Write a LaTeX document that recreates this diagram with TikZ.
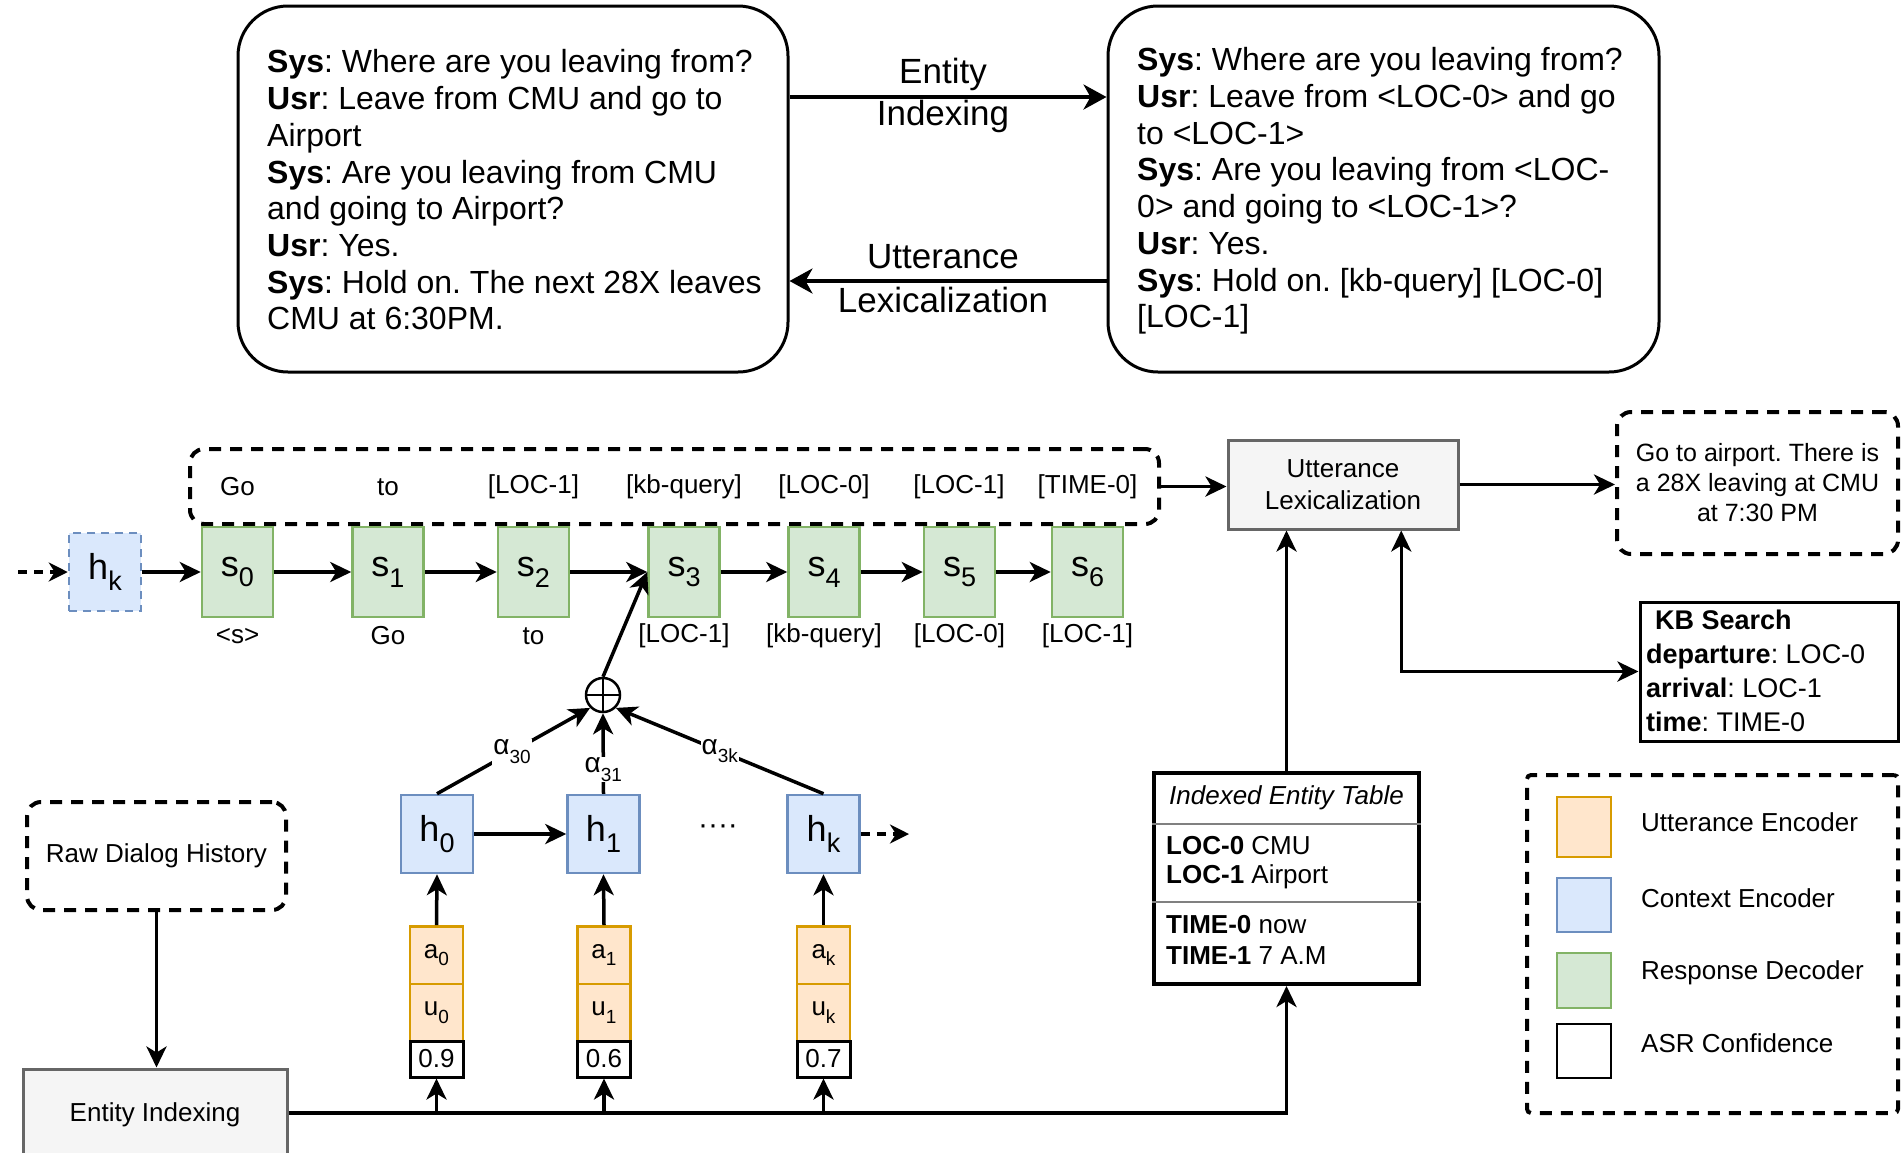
\documentclass[tikz,border=0pt]{standalone}
\usepackage{fontspec}
\setmainfont{Liberation Sans}
\usetikzlibrary{arrows.meta,calc}
\definecolor{grnF}{HTML}{D5E8D4}
\definecolor{grnD}{HTML}{82B366}
\definecolor{bluF}{HTML}{DAE8FC}
\definecolor{bluD}{HTML}{6C8EBF}
\definecolor{orgF}{HTML}{FFE6CC}
\definecolor{orgD}{HTML}{D79B00}
\definecolor{gryF}{HTML}{F5F5F5}
\definecolor{gryD}{HTML}{666666}
\newcommand{\fsz}[1]{\fontsize{#1}{#1}\selectfont}
\newcommand{\bigsub}[1]{\raisebox{-0.3em}{\fsz{27}#1}}
\newcommand{\smsub}[1]{\raisebox{-0.3em}{\fsz{19}#1}}
\frenchspacing
\begin{document}
\begin{tikzpicture}[x=1pt,y=-1pt,
  arr/.style={-{Stealth[length=21pt,width=20pt,inset=6pt]}, line width=3.5pt},
  arrbig/.style={-{Stealth[length=23pt,width=25pt,inset=7pt]}, line width=3.5pt},
  arrboth/.style={{Stealth[length=21pt,width=20pt,inset=6pt]}-{Stealth[length=21pt,width=20pt,inset=6pt]}, line width=3.5pt},
  dasharr/.style={-{Stealth[length=19pt,width=19pt,inset=6pt]}, line width=3.5pt, dash pattern=on 9pt off 7pt},
  dlg/.style={draw, line width=3pt, rounded corners=50pt, inner sep=0pt},
  dtext/.style={anchor=west, align=left, inner sep=0pt, font=\fontsize{32}{36.7}\selectfont},
  lbl/.style={inner sep=0pt, font=\fsz{35}},
  dashbox/.style={draw, line width=4pt, dash pattern=on 12pt off 9pt, rounded corners=14pt, inner sep=0pt},
  tok/.style={inner sep=0pt, font=\fsz{26}},
  gbox/.style={draw=grnD, fill=grnF, line width=2.5pt, minimum width=71pt, minimum height=90pt, inner sep=0pt, font=\fsz{36}},
  hbox/.style={draw=bluD, fill=bluF, line width=2.5pt, minimum width=72pt, minimum height=78pt, inner sep=0pt, font=\fsz{36}},
  obox/.style={draw=orgD, fill=orgF, line width=2.5pt, minimum width=53pt, minimum height=57.5pt, inner sep=0pt, font=\fsz{26}},
  cbox/.style={draw, line width=3pt, fill=white, minimum width=53pt, minimum height=36pt, inner sep=0pt, font=\fsz{26}},
  lexbox/.style={draw=gryD, fill=gryF, line width=3pt, inner sep=0pt, align=center, font=\fontsize{26}{32}\selectfont},
  alab/.style={fill=white, inner sep=1pt, font=\fsz{28}},
  tbl/.style={anchor=west, inner sep=0pt, font=\fsz{26}},
  sep/.style={draw=gray, line width=1.5pt},
  legsq/.style={line width=2.5pt, minimum width=54pt, inner sep=0pt},
  legtxt/.style={anchor=west, inner sep=0pt, font=\fsz{26}}]
\useasboundingbox (0,0) rectangle (1901,1152);

% ---------- dialogue before and after entity indexing ----------
\node[dlg, minimum width=550pt, minimum height=366pt] (dlgL) at (513,189) {};
\node[dtext] (txtL) at (267,190) {%
\textbf{Sys}: Where are you leaving from?\\
\textbf{Usr}: Leave from CMU and go to\\
Airport\\
\textbf{Sys}: Are you leaving from CMU\\
and going to Airport?\\
\textbf{Usr}: Yes.\\
\textbf{Sys}: Hold on. The next 28X leaves\\
CMU at 6:30PM.};
\node[dlg, minimum width=551pt, minimum height=366pt] (dlgR) at (1383.5,189) {};
\node[dtext] (txtR) at (1137,191) {%
\textbf{Sys}: Where are you leaving from?\\
\textbf{Usr}: Leave from <LOC-0> and go\\
to <LOC-1>\\
\textbf{Sys}: Are you leaving from <LOC-\\
0> and going to <LOC-1>?\\
\textbf{Usr}: Yes.\\
\textbf{Sys}: Hold on. [kb-query] [LOC-0]\\
{[LOC-1]}};
\coordinate (eiY) at (0,97);
\coordinate (ulY) at (0,281);
\draw[arrbig] (dlgL.east |- eiY) -- (dlgR.west |- eiY);
\draw[arrbig] (dlgR.west |- ulY) -- (dlgL.east |- ulY);
\node[lbl] (eiA) at (943,74) {Entity};
\node[lbl] (eiB) at (943,116) {Indexing};
\node[lbl] (ulA) at (943,257) {Utterance};
\node[lbl] (ulB) at (943,300) {Lexicalization};

% ---------- response decoder ----------
\node[dashbox, minimum width=969pt, minimum height=75pt] (tokbox) at (674.5,486.5) {};
\node[tok] (o0) at (237.5,487) {Go};
\node[tok] (o1) at (388,487) {to};
\node[tok] (o2) at (533.5,487) {[LOC-1]};
\node[tok] (o3) at (684,487) {[kb-query]};
\node[tok] (o4) at (824,487) {[LOC-0]};
\node[tok] (o5) at (959,487) {[LOC-1]};
\node[tok] (o6) at (1087.5,487) {[TIME-0]};

\node[hbox, dash pattern=on 8pt off 6pt] (hprev) at (105,572) {h\bigsub{k}};
\node[gbox] (s0) at (237.5,572) {s\bigsub{0}};
\node[gbox] (s1) at (388,572) {s\bigsub{1}};
\node[gbox] (s2) at (533.5,572) {s\bigsub{2}};
\node[gbox] (s3) at (684,572) {s\bigsub{3}};
\node[gbox] (s4) at (824,572) {s\bigsub{4}};
\node[gbox] (s5) at (959.5,572) {s\bigsub{5}};
\node[gbox] (s6) at (1087.5,572) {s\bigsub{6}};
\coordinate (inL) at (18,572);
\draw[dasharr] (inL) -- (hprev.west);
\draw[arr] (hprev) -- (s0);
\draw[arr] (s0) -- (s1);
\draw[arr] (s1) -- (s2);
\draw[arr] (s2) -- (s3);
\draw[arr] (s3) -- (s4);
\draw[arr] (s4) -- (s5);
\draw[arr] (s5) -- (s6);

\node[tok] (i0) at (237.5,636) {<s>};
\node[tok] (i1) at (388,636) {Go};
\node[tok] (i2) at (533.5,636) {to};
\node[tok] (i3) at (684,636) {[LOC-1]};
\node[tok] (i4) at (824,636) {[kb-query]};
\node[tok] (i5) at (959.5,636) {[LOC-0]};
\node[tok] (i6) at (1087.5,636) {[LOC-1]};

% ---------- attention ----------
\node[draw, circle, line width=2.5pt, minimum size=34pt, inner sep=0pt] (plus) at (603,695) {};
\draw[line width=2.5pt] (plus.north) -- (plus.south) (plus.west) -- (plus.east);
\draw[arr] (plus.north) -- (s3.west);

% ---------- context encoder ----------
\node[hbox] (h0) at (437,834) {h\bigsub{0}};
\node[hbox] (h1) at (603.5,834) {h\bigsub{1}};
\node[hbox] (hk) at (823.5,834) {h\bigsub{k}};
\draw[arr] (h0) -- (h1);
\node[font=\fsz{30}, inner sep=0pt] (dots) at (718,830) {····};
\coordinate (hout) at (909,834);
\draw[dasharr] (hk.east) -- (hout);

\draw[arr] (h0.north) -- node[alab, pos=0.49] {α\smsub{30}} (plus.-135);
\draw[arr] (h1.north) -- node[alab, pos=0.3] {α\smsub{31}} (plus.south);
\draw[arr] (hk.north) -- node[alab, pos=0.5] {α\smsub{3k}} (plus.-45);

% ---------- utterance encoder and ASR confidence ----------
\node[obox] (a0) at (436.5,955) {a\smsub{0}};
\node[obox] (u0) at (436.5,1012.5) {u\smsub{0}};
\node[cbox] (c0) at (436.5,1059) {0.9};
\node[obox] (a1) at (604,955) {a\smsub{1}};
\node[obox] (u1) at (604,1012.5) {u\smsub{1}};
\node[cbox] (c1) at (604,1059) {0.6};
\node[obox] (ak) at (823.5,955) {a\smsub{k}};
\node[obox] (uk) at (823.5,1012.5) {u\smsub{k}};
\node[cbox] (ck) at (823.5,1059) {0.7};
\draw[arr] (a0.north) -- (h0.south);
\draw[arr] (a1.north) -- (h1.south);
\draw[arr] (ak.north) -- (hk.south);

% ---------- preprocessing ----------
\node[dashbox, minimum width=259pt, minimum height=108pt, font=\fsz{26}] (raw) at (156.5,856) {Raw Dialog History};
\node[lexbox, minimum width=264pt, minimum height=92pt] (entix) at (155,1115) {Entity Indexing};
\draw[arr] (raw.south) -- (raw.south |- entix.north);

% ---------- indexed entity table ----------
\node[draw, line width=4pt, minimum width=265pt, minimum height=211pt, inner sep=0pt] (table) at (1286.5,878.5) {};
\node[inner sep=0pt, font=\fsz{26}\itshape] (tblHead) at (1286.5,798) {Indexed Entity Table};
\coordinate (sepA) at (0,824);
\coordinate (sepB) at (0,902);
\draw[sep] (table.west |- sepA) -- (table.east |- sepA);
\draw[sep] (table.west |- sepB) -- (table.east |- sepB);
\node[tbl] (t1) at (1166,846) {\textbf{LOC-0} CMU};
\node[tbl] (t2) at (1166,877) {\textbf{LOC-1} Airport};
\node[tbl] (t3) at (1166,925) {\textbf{TIME-0} now};
\node[tbl] (t4) at (1166,956) {\textbf{TIME-1} 7 A.M};

\coordinate (busY) at (0,1113);
\draw[arr] (entix.east |- busY) -| (table.south);
\draw[arr] (c0.south |- busY) -- (c0.south);
\draw[arr] (c1.south |- busY) -- (c1.south);
\draw[arr] (ck.south |- busY) -- (ck.south);

% ---------- lexicalization and output ----------
\node[lexbox, minimum width=230pt, minimum height=89pt] (uttlex) at (1343,484.5) {Utterance\\Lexicalization};
\draw[arr] (tokbox.east) -- (tokbox.east -| uttlex.west);
\draw[arr] (table.north) -- (table.north |- uttlex.south);
\node[dashbox, minimum width=281pt, minimum height=142pt, align=center, font=\fontsize{25}{30}\selectfont] (outbox) at (1757.5,483) {Go to airport. There is\\a 28X leaving at CMU\\at 7:30 PM};
\draw[arr] (uttlex.east) -- (uttlex.east -| outbox.west);

\node[draw, line width=3pt, minimum width=258pt, minimum height=139pt, inner sep=0pt] (kb) at (1769,671.5) {};
\node[anchor=west, align=left, inner sep=0pt, font=\fontsize{27}{34}\selectfont] (kbtxt) at (1646,671) {%
\hspace*{9pt}\textbf{KB Search}\\
\textbf{departure}: LOC-0\\
\textbf{arrival}: LOC-1\\
\textbf{time}: TIME-0};
\coordinate (kbq) at ($(uttlex.south east)!0.5!(uttlex.south)$);
\draw[arrboth] (kbq) |- (kb.west);

% ---------- legend ----------
\node[dashbox, rounded corners=4pt, minimum width=371pt, minimum height=338pt] (legend) at (1712.5,944) {};
\node[legsq, draw=orgD, fill=orgF, minimum height=60pt] (lgU) at (1584,827) {};
\node[legsq, draw=bluD, fill=bluF, minimum height=54pt] (lgC) at (1584,905) {};
\node[legsq, draw=grnD, fill=grnF, minimum height=55pt] (lgR) at (1584,980.5) {};
\node[legsq, draw=black, fill=white, minimum height=54pt] (lgA) at (1584,1051) {};
\node[legtxt] (ltU) at (1641,822) {Utterance Encoder};
\node[legtxt] (ltC) at (1641,898) {Context Encoder};
\node[legtxt] (ltR) at (1641,973) {Response Decoder};
\node[legtxt] (ltA) at (1641,1043) {ASR Confidence};
\end{tikzpicture}
\end{document}
